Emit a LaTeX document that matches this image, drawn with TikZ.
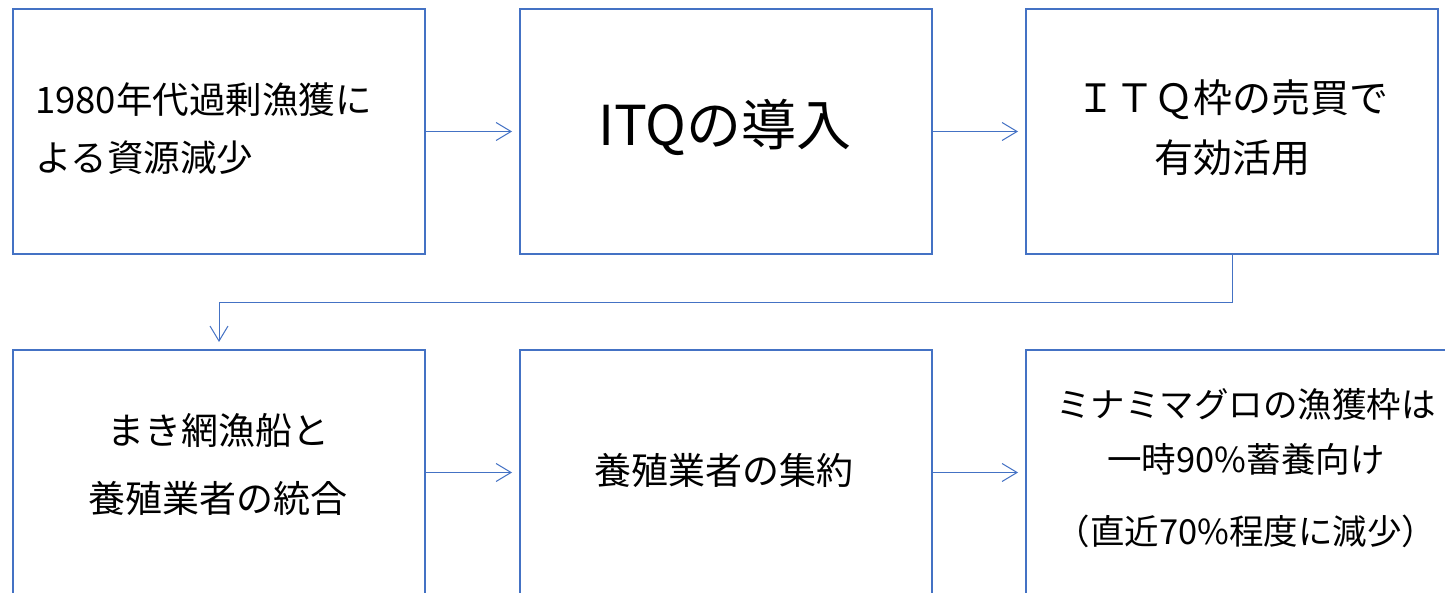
\documentclass[tikz,border=0pt]{standalone}
\usepackage{fontspec}
\setmainfont{Noto Sans CJK JP}
\usetikzlibrary{arrows.meta}
\definecolor{boxblue}{HTML}{4472C4}
\begin{document}
\begin{tikzpicture}[x=1pt,y=-1pt,
  box/.style={draw=boxblue,line width=2pt,minimum width=412pt,minimum height=245pt,inner sep=0pt,anchor=north west},
  txt/.style={inner sep=0pt,text=black,align=center,font=\fontsize{35}{58}\selectfont},
  conn/.style={draw=boxblue,line width=1pt,-{Straight Barb[length=15pt,width=18pt]},shorten >=7pt}]
\useasboundingbox (0,0) rectangle (1445,593);
\clip (0,0) rectangle (1445,593);
\node[box] (b1) at (12,8) {};
\node[box] (b2) at (519,8) {};
\node[box] (b3) at (1025,8) {};
\node[box] (b4) at (12,349) {};
\node[box] (b5) at (519,349) {};
\node[box,minimum width=450pt] (b6) at (1025,349) {};
\draw[conn] (b1.east) -- (b2.west);
\draw[conn] (b2.east) -- (b3.west);
\draw[conn] (b3.south) -- ++(0,48) -| (b4.north);
\draw[conn] (b4.east) -- (b5.west);
\draw[conn] (b5.east) -- (b6.west);
\node[txt,align=left,anchor=west,font=\fontsize{36.5}{58}\selectfont] (t1) at (35,129) {1980年代過剰漁獲に\\よる資源減少};
\node[txt,font=\fontsize{55}{60}\selectfont] (t2) at (725,127) {ITQの導入};
\node[txt,font=\fontsize{39}{60}\selectfont] (t3) at (1232,128) {ＩＴＱ枠の売買で\\有効活用};
\node[txt,font=\fontsize{37}{68}\selectfont] (t4) at (218,465) {まき網漁船と\\養殖業者の統合};
\node[txt,font=\fontsize{37}{58}\selectfont] (t5) at (724,470) {養殖業者の集約};
\node[txt,font=\fontsize{34.5}{55}\selectfont] (t6) at (1246,468) {ミナミマグロの漁獲枠は\\一時90\%蓄養向け\\[17pt]（直近70\%程度に減少）};
\end{tikzpicture}
\end{document}
